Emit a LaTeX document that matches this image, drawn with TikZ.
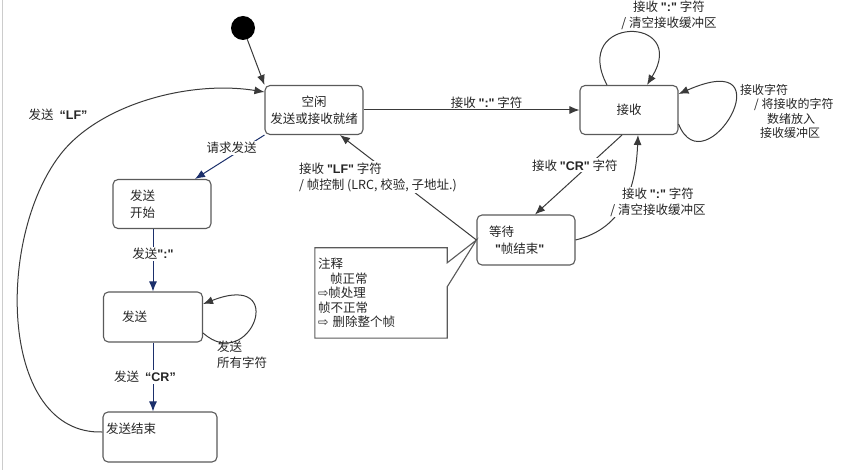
\documentclass[tikz,border=0pt]{standalone}
\usepackage{fontspec}
\setmainfont{Noto Sans CJK SC}
\newfontfamily\latfont{Liberation Sans}
\newfontfamily\symfont{DejaVu Sans}
\usetikzlibrary{arrows.meta,positioning}
\definecolor{linegray}{HTML}{3A3A3A}
\definecolor{boxgray}{HTML}{5A5A5A}
\definecolor{sendblue}{HTML}{1B2F6B}
\newcommand{\qb}[1]{{\latfont\bfseries #1}}

\tikzset{
	state/.style={draw=boxgray, line width=1.1pt, rounded corners=5pt, fill=white, minimum width=98pt, minimum height=49pt, inner sep=2pt, text=black!85, font=\fontsize{12.5}{17}\selectfont, align=center},
	trans/.style={draw=linegray, line width=1pt, -{Latex[length=10pt,width=8pt]}},
	sendtrans/.style={trans, draw=sendblue},
	lbl/.style={font=\fontsize{12.5}{16}\selectfont, text=black!85, inner sep=1pt},
	cover/.style={lbl, fill=white},
}

\begin{document}
\begin{tikzpicture}[x=1pt, y=-1pt]
	\useasboundingbox (0,0) rectangle (849,470);
	\draw[gray!40, line width=1pt] (2,0) -- (2,470);

	\node[circle, fill=black, minimum size=24pt, inner sep=0pt] (init) at (243,28) {};
	\node[state] (idle) at (314,110) {空闲\\发送或接收就绪};
	\node[state] (recv) at (629,110) {接收};
	\node[state, minimum height=50pt, text width=74pt, align=left] (waitend) at (526,240) {等待\\\hspace{6pt}\qb{"}帧结束\qb{"}};
	\node[state, text width=64pt, align=left] (sendstart) at (162,204) {发送\\开始};
	\node[state, minimum width=99pt, minimum height=50pt, text width=62pt, align=left] (sending) at (153,317) {发送};
	\node[state, minimum width=114pt, minimum height=50pt, text width=108pt, align=left] (sendend) at (160,437) {发送结束\\\mbox{}};
	\node[lbl, font=\fontsize{12.5}{14.5}\selectfont, text width=126pt, align=left, minimum width=132pt, minimum height=90pt] (note) at (381,293) {注释\\\hspace{12pt}帧正常\\{\symfont ⇨}帧处理\\帧不正常\\{\symfont ⇨} 删除整个帧};
	\draw[draw=boxgray, line width=1.1pt] (note.north west) -- (note.north east) -- ([yshift=-15pt]note.north east) -- (waitend.west) -- ([yshift=-39pt]note.north east) -- (note.south east) -- (note.south west) -- cycle;

	\draw[trans] (init) -- (idle.north west);
	\draw[trans] ([yshift=5pt]sendend.west) .. controls (0,435) and (-5,240) .. (60,155) .. controls (99,104) and (190,80) .. ([yshift=18pt]idle.west);
	\node[lbl] (sendlf) at (58,115) {发送\hspace{6pt}\qb{“LF”}};

	\draw[trans] (idle.east) -- node[lbl, above, pos=0.57] (recvcolon) {接收 \qb{":"} 字符} (recv.west);
	\draw[trans] ([xshift=-22pt]recv.north) .. controls (570,15) and (690,15) .. ([xshift=18pt]recv.north);
	\node[lbl, align=center] (toploop) at (669,15) {接收 \qb{":"} 字符\\/ 清空接收缓冲区};
	\draw[trans] ([yshift=-14pt]recv.east) .. controls (705,190) and (790,45) .. ([yshift=16pt]recv.east);
	\node[lbl, font=\fontsize{12}{14.5}\selectfont, align=left, anchor=north west] (rightloop) at (739,83) {接收字符\\\hspace{14pt}/ 将接收的字符\\\hspace{27pt}数绪放入\\\hspace{20pt}接收缓冲区};

	\draw[trans] ([xshift=-7pt]recv.south) -- node[cover, pos=0.38, xshift=-14pt] (recvcr) {接收 \qb{"CR"} 字符} ([xshift=9pt]waitend.north);
	\draw[trans] (waitend.east) .. controls (625,228) and (636,185) .. ([xshift=9pt]recv.south);
	\node[cover, align=center] (waitcolon) at (658,202) {接收 \qb{":"} 字符\\/ 清空接收缓冲区};
	\draw[trans] (waitend.west) -- ([xshift=26pt]idle.south);
	\node[cover, align=left, anchor=west] (recvlf) at (298,177) {接收 \qb{"LF"} 字符\\/ 帧控制 (LRC, 校验, 子地址.)};

	\draw[sendtrans] (idle.south west) -- node[cover, pos=0.3, xshift=-12pt] (request) {请求发送} ([xshift=33pt]sendstart.north);
	\draw[sendtrans] (sending.north |- sendstart.south) -- node[cover, pos=0.4] (sendcolon) {发送\qb{":"}} (sending.north);
	\draw[sendtrans] (sending.south) -- node[cover, xshift=-8pt] (sendcr) {发送\hspace{6pt}\qb{“CR”}} (sending.south |- sendend.north);
	\draw[trans] ([yshift=-16pt]sending.east) .. controls (250,375) and (290,270) .. ([yshift=13pt]sending.east);
	\node[lbl, align=left, anchor=north west] (sendall) at (216,340) {发送\\所有字符};
\end{tikzpicture}
\end{document}
